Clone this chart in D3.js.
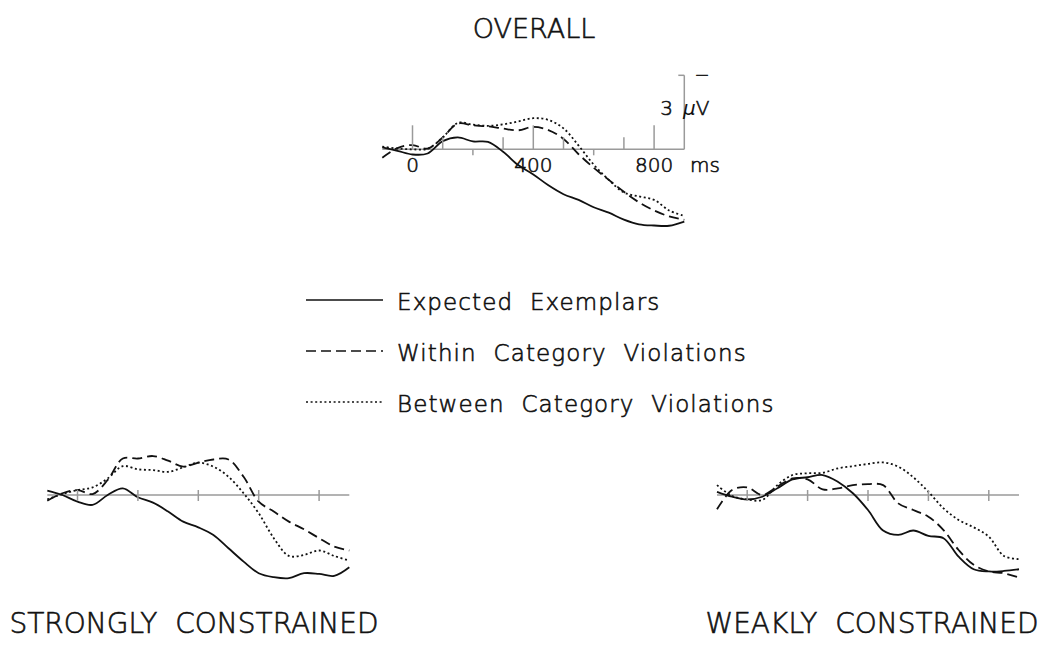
<!DOCTYPE html>
<html>
<head>
<meta charset="utf-8">
<script src="https://cdn.jsdelivr.net/npm/d3@7"></script>
<style>
  body { margin: 0; background: #fff; }
  text { font-family: "DejaVu Sans", sans-serif; font-weight: 200; fill: #111; stroke: #111; stroke-width: 0.6px; white-space: pre; }
</style>
</head>
<body>
<div id="erp"></div>
<script>
var width = 1050, height = 648;

// time points (ms), one per 50 ms from -100 to 900
var times = [-100,-50,0,50,100,150,200,250,300,350,400,450,500,550,600,650,700,750,800,850,900];

// amplitudes in microvolts, negative plotted up
var overallExpected = [-0.08,0.06,0.21,0.17,-0.33,-0.48,-0.32,-0.30,0.10,0.64,1.02,1.46,1.82,2.05,2.35,2.57,2.85,3.04,3.09,3.10,2.93];
var overallWithin   = [0.34,-0.05,-0.17,-0.03,-0.48,-1.04,-0.97,-0.93,-0.84,-0.77,-0.91,-0.78,-0.42,0.20,0.75,1.24,1.72,2.15,2.48,2.72,2.86];
var overallBetween  = [-0.11,-0.03,0.00,-0.02,-0.48,-1.07,-1.00,-0.95,-1.01,-1.13,-1.26,-1.19,-0.85,-0.15,0.62,1.24,1.75,1.91,2.05,2.48,2.70];

var strongExpected = [-0.18,0.00,0.27,0.40,0.00,-0.27,0.09,0.31,0.67,1.08,1.31,1.62,2.16,2.70,3.17,3.33,3.37,3.17,3.20,3.28,2.93];
var strongWithin   = [0.23,-0.07,-0.20,-0.04,-0.61,-1.48,-1.48,-1.58,-1.39,-1.15,-1.31,-1.44,-1.44,-0.74,0.27,0.67,1.08,1.39,1.75,2.09,2.25];
var strongBetween  = [0.18,-0.04,-0.20,-0.31,-0.67,-1.17,-1.04,-1.01,-0.94,-1.12,-1.31,-1.15,-0.74,-0.07,0.74,1.75,2.47,2.43,2.25,2.47,2.66];

var weakExpected = [-0.13,0.07,0.18,0.07,-0.27,-0.63,-0.72,-0.81,-0.54,-0.07,0.61,1.44,1.62,1.44,1.66,1.75,2.50,3.01,3.10,3.08,3.01];
var weakWithin   = [0.58,-0.20,-0.31,0.00,-0.34,-0.67,-0.63,-0.23,-0.27,-0.40,-0.44,-0.40,0.34,0.61,0.88,1.42,2.23,2.83,3.10,3.17,3.35];
var weakBetween  = [-0.40,0.04,0.18,0.20,-0.40,-0.81,-0.88,-0.90,-1.08,-1.17,-1.26,-1.32,-1.15,-0.72,-0.13,0.54,1.01,1.31,1.69,2.47,2.60];

var conditions = ["Expected  Exemplars", "Within  Category  Violations", "Between  Category  Violations"];
var dashes = [null, "10,5", "2,2.6"];

var svg = d3.select("#erp").append("svg")
    .attr("width", width)
    .attr("height", height);

function panel(x0, base, series) {
  var x = d3.scaleLinear().domain([-100, 900]).range([x0, x0 + 302]);
  var y = d3.scaleLinear().domain([-3, 0]).range([base - 74, base]);
  var g = svg.append("g");

  g.append("line")
      .attr("x1", x(-100)).attr("x2", x(900))
      .attr("y1", base).attr("y2", base)
      .style("stroke", "#9a9a9a").style("stroke-width", 1.5);

  var line = d3.line()
      .x(function(d, i) { return x(times[i]); })
      .y(function(d) { return y(d); })
      .curve(d3.curveCatmullRom.alpha(0.5));

  series.forEach(function(s, i) {
    g.append("path")
        .attr("d", line(s))
        .style("fill", "none")
        .style("stroke", "#111")
        .style("stroke-width", 1.8)
        .style("stroke-dasharray", dashes[i]);
  });
  return {g: g, x: x, y: y};
}

// overall panel with its ms / uV scale
var ov = panel(382.3, 149.3, [overallExpected, overallWithin, overallBetween]);
var ovTicks = [0,100,200,300,400,500,600,700,800];
ov.g.selectAll(".tick").data(ovTicks).enter().append("line")
    .attr("x1", function(d) { return ov.x(d); })
    .attr("x2", function(d) { return ov.x(d); })
    .attr("y1", 149.3)
    .attr("y2", function(d) { return d % 400 == 0 ? 149.3 - 24 : (d % 200 == 0 ? 149.3 + 6 : 149.3 - 12); })
    .style("stroke", "#9a9a9a").style("stroke-width", 1.5);
// scale bar, 3 uV
ov.g.append("line")
    .attr("x1", ov.x(900)).attr("x2", ov.x(900))
    .attr("y1", ov.y(0)).attr("y2", ov.y(-3))
    .style("stroke", "#9a9a9a").style("stroke-width", 1.5);
ov.g.append("line")
    .attr("x1", ov.x(900) - 6).attr("x2", ov.x(900))
    .attr("y1", ov.y(-3)).attr("y2", ov.y(-3))
    .style("stroke", "#9a9a9a").style("stroke-width", 1.5);
ov.g.append("text")
    .attr("x", 702).attr("y", 81)
    .attr("text-anchor", "middle")
    .style("font-size", "18px")
    .text("\u2212");
ov.g.selectAll(".lab").data([0, 400, 800]).enter().append("text")
    .attr("x", function(d) { return ov.x(d); })
    .attr("y", 172)
    .attr("text-anchor", "middle")
    .style("font-size", "20px")
    .text(function(d) { return d; });
ov.g.append("text").attr("x", 690).attr("y", 172).style("font-size", "20px").text("ms");
ov.g.append("text").attr("x", 673).attr("y", 115).attr("text-anchor", "end").style("font-size", "20px").text("3");
var uv = ov.g.append("text").attr("x", 683).attr("y", 115).style("font-size", "20px");
uv.append("tspan").style("font-style", "italic").style("stroke-width", "0px").text("\u03bc");
uv.append("tspan").text("V");

// lower panels
[[47.3, [strongExpected, strongWithin, strongBetween]],
 [717, [weakExpected, weakWithin, weakBetween]]].forEach(function(p) {
  var pn = panel(p[0], 495, p[1]);
  pn.g.selectAll(".tick").data([0,200,400,600,800]).enter().append("line")
      .attr("x1", function(d) { return pn.x(d); })
      .attr("x2", function(d) { return pn.x(d); })
      .attr("y1", 490).attr("y2", 501)
      .style("stroke", "#9a9a9a").style("stroke-width", 1.5);
});

// titles
svg.append("text").attr("x", 534).attr("y", 38).attr("text-anchor", "middle")
    .style("font-size", "27px").text("OVERALL");
svg.append("text").attr("x", 194).attr("y", 633).attr("text-anchor", "middle")
    .style("font-size", "28px").text("STRONGLY  CONSTRAINED");
svg.append("text").attr("x", 872).attr("y", 633).attr("text-anchor", "middle")
    .style("font-size", "28px").text("WEAKLY  CONSTRAINED");

// legend
var legend = svg.selectAll(".legend").data(conditions).enter().append("g")
    .attr("transform", function(d, i) { return "translate(0," + (i * 51) + ")"; });
legend.append("line")
    .attr("x1", 306).attr("x2", 383).attr("y1", 300).attr("y2", 300)
    .style("stroke", "#111").style("stroke-width", 1.5)
    .style("stroke-dasharray", function(d, i) { return dashes[i]; });
legend.append("text")
    .attr("x", 397).attr("y", 310)
    .style("font-size", "23px")
    .style("letter-spacing", "1.1px")
    .text(function(d) { return d; });
</script>
</body>
</html>
